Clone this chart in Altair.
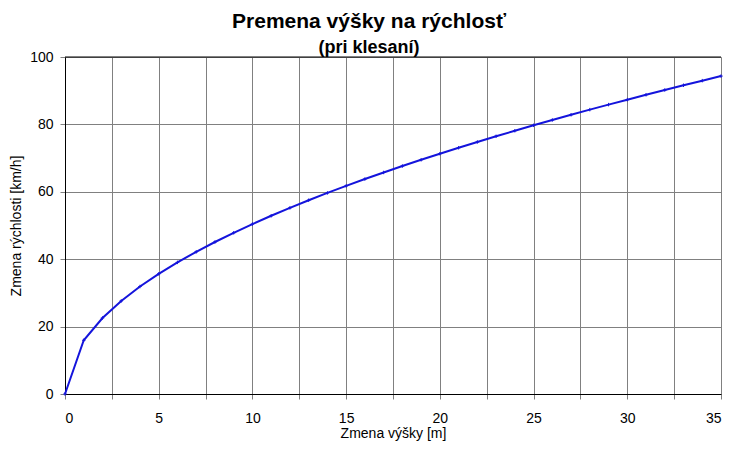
import altair as alt
import pandas as pd

heights = list(range(0, 36))
speeds = [0, 15.95, 22.55, 27.62, 31.89, 35.66, 39.06, 42.19, 45.10, 47.84,
          50.43, 52.89, 55.24, 57.50, 59.67, 61.76, 63.78, 65.74, 67.65, 69.50,
          71.31, 73.07, 74.79, 76.47, 78.12, 79.73, 81.31, 82.86, 84.38, 85.87,
          87.34, 88.79, 90.21, 91.61, 92.98, 94.34]
x_ticks = [i * 2.5 for i in range(15)]
y_ticks = list(range(0, 101, 10))

df = pd.DataFrame({"h": heights, "v": speeds})

FONT = "Liberation Sans"
BLUE = "#1414dc"

x_enc = alt.X("h:Q", scale=alt.Scale(domain=[0, 35], nice=False, zero=True),
              axis=alt.Axis(title="Zmena výšky [m]", values=x_ticks,
                            labelExpr="datum.value % 5 == 0 ? datum.label : ''",
                            grid=True, gridColor="#808080", gridWidth=1,
                            domainColor="#000", domainWidth=1,
                            tickColor="#808080", tickSize=5,
                            labelFont=FONT, labelFontSize=14, labelColor="#000",
                            labelPadding=12,
                            titleFont=FONT, titleFontSize=14, titleFontWeight="normal",
                            titleColor="#000", titlePadding=1))
y_enc = alt.Y("v:Q", scale=alt.Scale(domain=[0, 100], nice=False),
              axis=alt.Axis(title="Zmena rýchlosti [km/h]", values=y_ticks,
                            labelExpr="datum.value % 20 == 0 ? datum.label : ''",
                            grid=True, gridColor="#808080", gridWidth=1,
                            domainColor="#000", domainWidth=1,
                            tickColor="#808080", tickSize=5,
                            labelFont=FONT, labelFontSize=14, labelColor="#000",
                            labelPadding=7,
                            titleFont=FONT, titleFontSize=14, titleFontWeight="normal",
                            titleColor="#000", titlePadding=6))

base = alt.Chart(df)
line = base.mark_line(color=BLUE, strokeWidth=2).encode(x=x_enc, y=y_enc)
pts = base.mark_point(shape="M-1,0L1,0M0,-1L0,1", size=12, color=BLUE,
                      strokeWidth=1, filled=False, opacity=1).encode(x="h:Q", y="v:Q")
top = alt.Chart(pd.DataFrame({"y": [100]})).mark_rule(color="#000", strokeWidth=1).encode(
    y="y:Q", x=alt.value(0), x2=alt.value(656))

chart = alt.layer(line, pts, top).properties(
    width=656, height=337,
    autosize=alt.AutoSizeParams(type="none"),
    padding={"left": 57, "top": 49, "right": 9, "bottom": 54},
    title=alt.TitleParams(text="Premena výšky na rýchlosť", subtitle="(pri klesaní)",
                          font=FONT, fontSize=21, fontWeight="bold", color="#000",
                          subtitleFont=FONT, subtitleFontSize=18, subtitleFontWeight="bold",
                          subtitleColor="#000", subtitlePadding=7,
                          anchor="middle", dx=-24, offset=-7),
).configure_view(stroke=None).configure(background="white")

chart.save("out.html", embed_options={"renderer": "svg", "actions": False})
